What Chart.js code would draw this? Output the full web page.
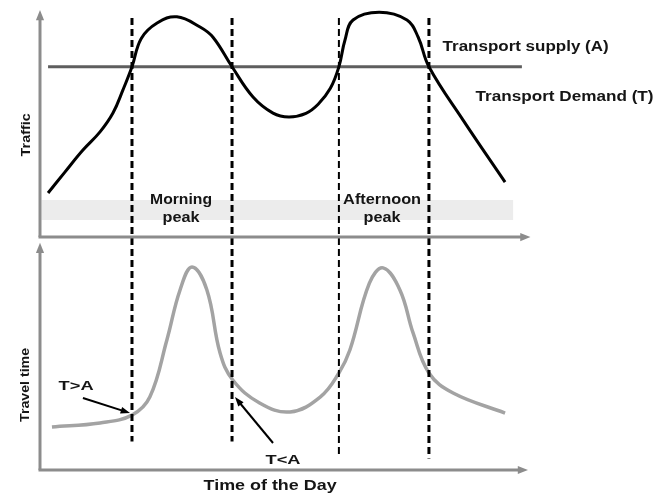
<!DOCTYPE html>
<html>
<head>
<meta charset="utf-8">
<script src="https://cdn.jsdelivr.net/npm/chart.js@4.4.1/dist/chart.umd.min.js"></script>
<style>
  html, body { margin: 0; padding: 0; background: #fff; }
  #wrap { width: 657px; height: 494px; }
</style>
</head>
<body>
<div id="wrap"><canvas id="chart" width="657" height="494"></canvas></div>
<script>
// hours of the day on x, arbitrary units on y
const demandHours = [4.33, 5.02, 5.76, 6.46, 6.99, 7.4, 7.77, 8.15, 8.8, 9.61, 10.56, 11.09, 11.87, 12.73, 13.55, 14.2, 14.9, 15.4, 15.9, 16.25, 16.5, 16.83, 17.9, 19.04, 19.5, 19.94, 21.34, 23.06]
const demandValues = [19.4, 28.6, 38.3, 46.3, 54.6, 64.8, 75, 87.5, 94.3, 97, 92.5, 88, 75, 61.7, 54.6, 52.9, 54.5, 58.5, 65.5, 75, 86.8, 95.6, 99, 95.6, 88, 75, 51.5, 24.2]

const supplyHours = [4.33, 23.75]
const supplyValues = [75, 75]

const travelHours = [4.49, 6.46, 7.77, 8.5, 9.2, 9.74, 10.23, 10.84, 11.38, 11.9, 13.0, 14.25, 15.48, 16.25, 16.7, 17.5, 18.06, 18.75, 19.29, 19.94, 20.93, 23.06]
const travelValues = [19.1, 20.9, 24.4, 32.4, 57.8, 80, 90.2, 80, 52, 40, 29.8, 25.8, 32.4, 43.1, 53.3, 83, 89.8, 80, 60.9, 43.1, 34.2, 25.3]

// start / end of the two peak periods (where demand crosses supply)
const peakBounds = [7.77, 11.87, 16.25, 19.94]
const boundTop = 96.5
const boundBottoms = [-90, -90, -96, -97.5]
const boundWidths = [3, 3, 2, 3]

const bandHours = [4.05, 23.4]
const bandRange = [7.5, 16.3]

const peakLabels = [
  { hour: 9.78, lines: ["Morning", "peak"], widths: [62, 37] },
  { hour: 18.02, lines: ["Afternoon", "peak"], widths: [78, 37] }
]

const TEXT = "#151515"
const FONT = "'Liberation Sans', Arial, sans-serif"

// draws text squeezed/stretched to the width it has in the picture
function fitText(ctx, str, x, y, size, weight, align, width, rotate) {
  ctx.save()
  ctx.font = `${weight} ${size}px ${FONT}`
  const sx = width / ctx.measureText(str).width
  ctx.translate(x, y)
  if (rotate) ctx.rotate(-Math.PI / 2)
  ctx.scale(sx, 1)
  ctx.fillStyle = TEXT
  ctx.textAlign = align
  ctx.textBaseline = "middle"
  ctx.fillText(str, 0, 0)
  ctx.restore()
}

function arrow(ctx, x1, y1, x2, y2) {
  const ang = Math.atan2(y2 - y1, x2 - x1)
  const head = 10
  ctx.save()
  ctx.strokeStyle = "#000"
  ctx.fillStyle = "#000"
  ctx.lineWidth = 2
  ctx.beginPath()
  ctx.moveTo(x1, y1)
  ctx.lineTo(x2 - Math.cos(ang) * head * 0.8, y2 - Math.sin(ang) * head * 0.8)
  ctx.stroke()
  ctx.beginPath()
  ctx.moveTo(x2, y2)
  ctx.lineTo(x2 - head * Math.cos(ang - 0.35), y2 - head * Math.sin(ang - 0.35))
  ctx.lineTo(x2 - head * Math.cos(ang + 0.35), y2 - head * Math.sin(ang + 0.35))
  ctx.closePath()
  ctx.fill()
  ctx.restore()
}

function axisArrow(ctx, x1, y1, x2, y2) {
  const ang = Math.atan2(y2 - y1, x2 - x1)
  const head = 11
  ctx.save()
  ctx.strokeStyle = "#8c8c8c"
  ctx.fillStyle = "#8c8c8c"
  ctx.lineWidth = 3
  ctx.beginPath()
  ctx.moveTo(x1, y1)
  ctx.lineTo(x2 - Math.cos(ang) * head * 0.7, y2 - Math.sin(ang) * head * 0.7)
  ctx.stroke()
  ctx.beginPath()
  ctx.moveTo(x2, y2)
  ctx.lineTo(x2 - head * Math.cos(ang - 0.38), y2 - head * Math.sin(ang - 0.38))
  ctx.lineTo(x2 - head * Math.cos(ang + 0.38), y2 - head * Math.sin(ang + 0.38))
  ctx.closePath()
  ctx.fill()
  ctx.restore()
}

const decorations = {
  id: "decorations",
  afterDatasetsDraw(chart) {
    const ctx = chart.ctx
    const x = chart.scales.x
    const yT = chart.scales.yTop
    const yB = chart.scales.yBot
    const area = chart.chartArea

    // axes
    axisArrow(ctx, x.getPixelForValue(4), yT.getPixelForValue(0), x.getPixelForValue(4), yT.getPixelForValue(100))
    axisArrow(ctx, x.getPixelForValue(4) - 1.5, yT.getPixelForValue(0), x.getPixelForValue(24.1), yT.getPixelForValue(0))
    axisArrow(ctx, x.getPixelForValue(4), yB.getPixelForValue(0), x.getPixelForValue(4), yB.getPixelForValue(101))
    axisArrow(ctx, x.getPixelForValue(4) - 1.5, yB.getPixelForValue(0), x.getPixelForValue(24), yB.getPixelForValue(0))

    // axis titles
    fitText(ctx, "Traffic", area.left - 14, yT.getPixelForValue(45), 13, "bold", "center", 43, true)
    fitText(ctx, "Travel time", area.left - 15, yB.getPixelForValue(37.8), 13, "bold", "center", 74, true)
    fitText(ctx, "Time of the Day", x.getPixelForValue(13.43), area.bottom + 16, 15, "bold", "center", 133, false)

    // line labels
    fitText(ctx, "Transport supply (A)", x.getPixelForValue(20.5), yT.getPixelForValue(83.7), 14.5, "bold", "left", 166, false)
    fitText(ctx, "Transport Demand (T)", x.getPixelForValue(21.85), yT.getPixelForValue(61.7), 14.5, "bold", "left", 178, false)

    peakLabels.forEach(p => {
      fitText(ctx, p.lines[0], x.getPixelForValue(p.hour), yT.getPixelForValue(16.3), 14, "bold", "center", p.widths[0], false)
      fitText(ctx, p.lines[1], x.getPixelForValue(p.hour), yT.getPixelForValue(8.4), 14, "bold", "center", p.widths[1], false)
    })

    // T>A / T<A callouts
    fitText(ctx, "T>A", x.getPixelForValue(5.48), yB.getPixelForValue(37.3), 13, "bold", "center", 35, false)
    arrow(ctx, x.getPixelForValue(5.76), yB.getPixelForValue(32), x.getPixelForValue(7.69), yB.getPixelForValue(25.3))
    fitText(ctx, "T<A", x.getPixelForValue(13.96), yB.getPixelForValue(4.4), 13, "bold", "center", 35, false)
    arrow(ctx, x.getPixelForValue(13.55), yB.getPixelForValue(12), x.getPixelForValue(11.99), yB.getPixelForValue(32.4))
  }
}

const toPoints = (xs, ys) => xs.map((h, i) => ({ x: h, y: ys[i] }))

const boundDatasets = peakBounds.map((h, i) => ({
  data: [{ x: h, y: boundTop }, { x: h, y: boundBottoms[i] }],
  yAxisID: "yTop",
  borderColor: "#000",
  borderWidth: boundWidths[i],
  borderDash: [7, 4],
  pointRadius: 0,
  tension: 0,
  order: 1
}))

new Chart(document.getElementById("chart"), {
  type: "line",
  data: {
    datasets: [
      {
        label: "band",
        data: toPoints(bandHours, [bandRange[1], bandRange[1]]),
        yAxisID: "yTop",
        borderWidth: 0,
        pointRadius: 0,
        backgroundColor: "#ececec",
        fill: { value: bandRange[0] },
        order: 10
      },
      {
        label: "Transport supply (A)",
        data: toPoints(supplyHours, supplyValues),
        yAxisID: "yTop",
        borderColor: "#5e5e5e",
        borderWidth: 3,
        pointRadius: 0,
        order: 3
      },
      {
        label: "Transport Demand (T)",
        data: toPoints(demandHours, demandValues),
        yAxisID: "yTop",
        borderColor: "#000",
        borderWidth: 3,
        pointRadius: 0,
        tension: 0.4,
        order: 2
      },
      {
        label: "Travel time",
        data: toPoints(travelHours, travelValues),
        yAxisID: "yBot",
        borderColor: "#a3a3a3",
        borderWidth: 3.5,
        pointRadius: 0,
        tension: 0.4,
        order: 2
      },
      ...boundDatasets
    ]
  },
  options: {
    responsive: false,
    animation: false,
    layout: { padding: { left: 40, right: 129, top: 10, bottom: 24 } },
    scales: {
      x: { type: "linear", min: 4, max: 24, display: false },
      yTop: { type: "linear", min: -102.6, max: 100, display: false },
      yBot: { type: "linear", min: 0, max: 204.4, display: false }
    },
    plugins: {
      legend: { display: false },
      tooltip: { enabled: false }
    }
  },
  plugins: [decorations]
})
</script>
</body>
</html>
